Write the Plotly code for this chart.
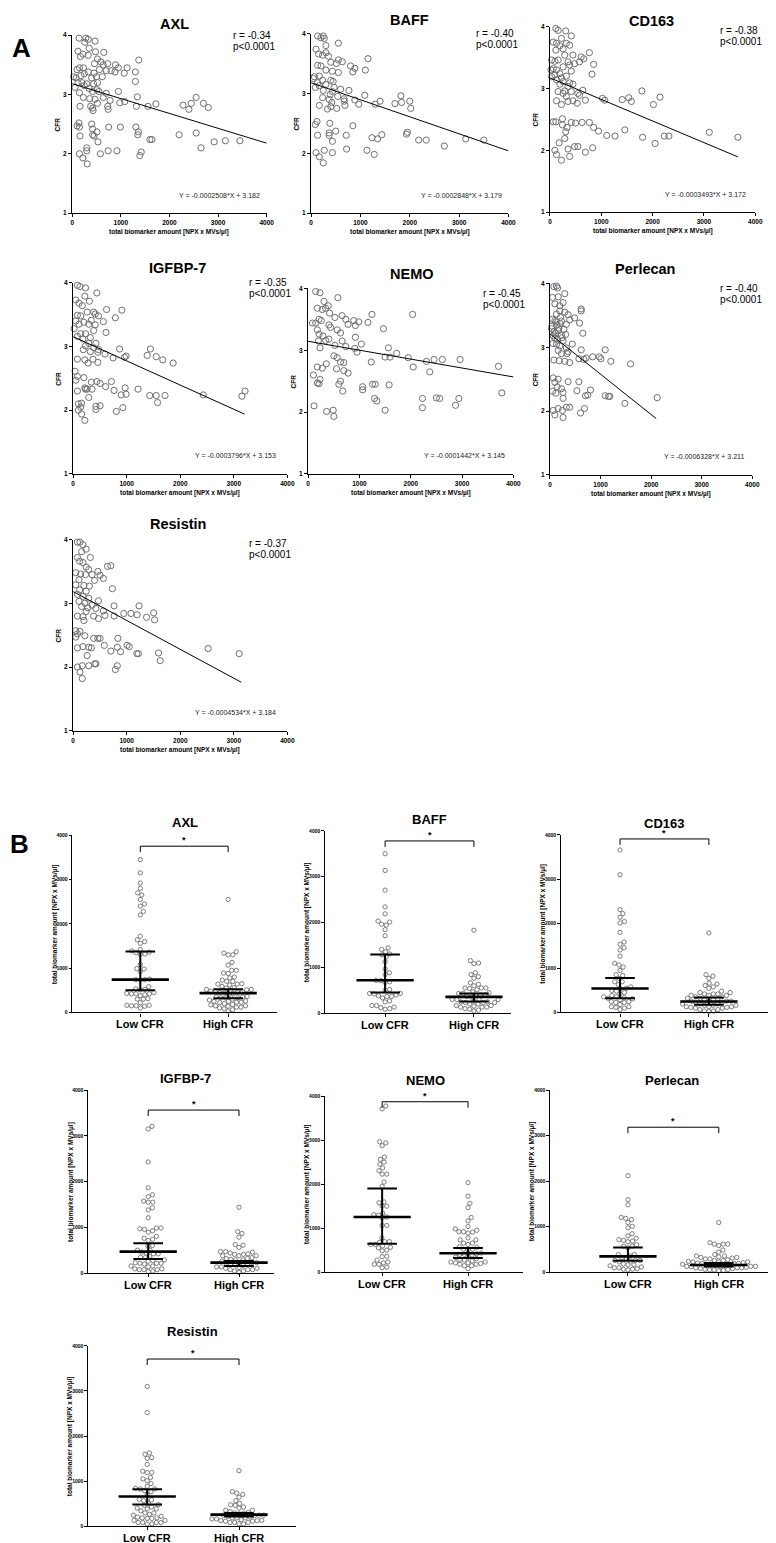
import numpy as np
import plotly.graph_objects as go

W, H = 776, 1543
FONT = "Liberation Sans, Arial, Helvetica, sans-serif"
GREY = "#6f6f6f"

# ---------------- data ----------------
markers = ["AXL", "BAFF", "CD163", "IGFBP-7", "NEMO", "Perlecan", "Resistin"]
r_values = ["-0.34", "-0.40", "-0.38", "-0.35", "-0.45", "-0.40", "-0.37"]
p_label = "p&lt;0.0001"
slopes = [-0.0002508, -0.0002848, -0.0003493, -0.0003796, -0.0001442, -0.0006328, -0.0004534]
intercepts = [3.182, 3.179, 3.172, 3.153, 3.145, 3.211, 3.184]
fit_x_end = [4000, 4000, 3661, 3200, 4000, 2100, 3140]
x_ticks_A = [0, 1000, 2000, 3000, 4000]
y_ticks_A = [1, 2, 3, 4]
y_ticks_B = [0, 1000, 2000, 3000, 4000]
groups = ["Low CFR", "High CFR"]
CFR_SPLIT = 2.9

axl_x = [140,280,330,260,470,350,120,480,650,220,330,170,520,1370,590,730,890,460,640,950,
         1130,150,230,100,560,700,800,330,1300,1070,880,450,250,180,30,80,620,400,500,1300,
         200,120,300,440,520,250,60,350,510,550,950,420,700,150,
         230,360,470,640,1340,780,1080,980,520,380,420,160,730,740,430,1320,1560,1720,2280,2400,
         2450,2550,2700,2800,
         140,100,150,400,420,510,750,990,1310,1360,1350,420,450,160,530,1600,1640,2200,2550,2920,
         3150,3450,300,300,2650,150,220,310,580,740,920,1390,1420]
axl_cfr = [3.95,3.95,3.93,3.88,3.90,3.78,3.73,3.72,3.71,3.68,3.66,3.64,3.60,3.58,3.55,3.52,3.50,3.52,3.50,3.45,
           3.45,3.45,3.45,3.42,3.42,3.40,3.40,3.38,3.38,3.36,3.38,3.36,3.35,3.32,3.30,3.28,3.30,3.28,3.30,3.22,
           3.20,3.20,3.18,3.18,3.20,3.15,3.12,3.10,3.08,3.05,3.05,3.05,3.02,3.03,
           2.95,2.93,2.92,2.95,2.96,2.90,2.88,2.86,2.85,2.80,2.77,2.80,2.80,2.75,2.73,2.80,2.80,2.84,2.82,2.75,
           2.85,2.95,2.85,2.78,
           2.52,2.47,2.45,2.50,2.42,2.37,2.45,2.45,2.45,2.37,2.32,2.32,2.30,2.30,2.20,2.24,2.24,2.32,2.35,2.20,
           2.22,2.22,2.10,2.05,2.10,2.00,1.93,1.83,2.00,2.05,2.05,1.97,2.03]

baff_x = [133,247,200,267,553,300,100,300,153,233,353,1153,553,633,400,513,133,200,800,887,
          300,433,553,847,1100,67,167,47,233,400,447,133,300,167,87,467,600,767,247,433,
          387,1087,540,233,367,667,673,887,420,1400,1300,967,687,167,400,1700,1833,1820,2000,2020,
          520,333,
          120,87,380,847,500,367,367,133,713,1433,1233,1347,433,1933,1953,2180,2333,3133,3500,2700,
          267,100,433,720,1133,1280,167,247]
baff_cfr = [3.96,3.96,3.93,3.92,3.84,3.80,3.74,3.68,3.66,3.64,3.62,3.58,3.56,3.53,3.52,3.50,3.47,3.46,3.46,3.42,
            3.39,3.37,3.35,3.36,3.39,3.28,3.29,3.25,3.22,3.22,3.20,3.18,3.15,3.13,3.10,3.10,3.07,3.05,3.05,3.03,
            2.98,2.97,2.95,2.93,2.90,2.91,2.87,2.89,2.85,2.87,2.82,2.82,2.80,2.80,2.78,2.83,2.85,2.96,2.87,2.75,
            2.75,2.74,
            2.53,2.48,2.50,2.46,2.37,2.34,2.30,2.30,2.30,2.31,2.26,2.24,2.20,2.32,2.35,2.22,2.22,2.24,2.22,2.12,
            2.05,2.01,2.01,2.07,2.05,1.98,1.94,1.84]

cd163_x = [115,160,307,416,64,128,320,224,192,384,256,115,768,288,448,608,660,32,96,160,
           352,480,576,384,851,256,64,128,416,20,192,819,96,320,224,32,128,384,448,256,
           192,352,640,288,160,416,544,576,256,320,128,448,691,224,352,531,1024,1069,1408,1536,
           1587,1792,2016,2144,
           64,115,243,416,627,499,768,243,333,851,947,1459,307,1107,1267,1805,2227,2317,3104,3661,
           288,179,480,544,352,96,832,2048,691,128,384,224]
cd163_cfr = [3.97,3.94,3.93,3.85,3.75,3.73,3.73,3.81,3.69,3.70,3.64,3.62,3.58,3.54,3.54,3.51,3.48,3.46,3.44,3.46,
             3.43,3.40,3.43,3.38,3.39,3.35,3.32,3.30,3.28,3.30,3.24,3.23,3.22,3.20,3.17,3.19,3.14,3.09,3.07,3.11,
             3.07,3.03,2.97,2.96,2.95,2.95,2.92,2.89,2.92,2.87,2.80,2.80,2.81,2.74,2.79,2.76,2.84,2.81,2.82,2.85,
             2.79,2.96,2.74,2.86,
             2.46,2.46,2.51,2.45,2.45,2.44,2.45,2.41,2.37,2.37,2.31,2.33,2.30,2.24,2.23,2.21,2.23,2.23,2.29,2.21,
             2.19,2.12,2.06,2.06,2.02,2.00,2.04,2.11,1.97,1.93,1.90,1.84]

igfbp7_x = [79,127,230,442,48,218,109,303,170,624,909,261,382,79,140,412,473,339,48,200,
            564,788,109,291,412,18,382,612,140,230,79,321,182,424,291,230,382,473,188,867,
            1442,321,461,594,745,958,988,1382,1551,1673,1867,79,218,370,279,461,
            36,79,48,200,339,442,503,715,218,261,606,970,1212,230,352,79,764,291,897,988,
            1430,1551,1715,1576,2430,3150,3210,97,158,140,424,503,97,424,927,806,158,218]
igfbp7_cfr = [3.96,3.94,3.92,3.84,3.73,3.79,3.68,3.71,3.64,3.58,3.57,3.54,3.54,3.49,3.48,3.51,3.48,3.41,3.40,3.38,
              3.39,3.45,3.35,3.35,3.34,3.28,3.25,3.22,3.20,3.20,3.16,3.14,3.12,3.05,3.05,3.01,2.98,2.95,2.95,2.96,
              2.96,2.92,2.91,2.88,2.82,2.83,2.85,2.86,2.84,2.79,2.74,2.80,2.79,2.80,2.74,2.75,
              2.61,2.53,2.47,2.51,2.44,2.45,2.42,2.45,2.35,2.33,2.37,2.35,2.33,2.33,2.33,2.30,2.31,2.20,2.24,2.25,
              2.23,2.23,2.23,2.12,2.24,2.22,2.30,2.10,2.11,2.05,2.06,2.07,2.00,2.01,2.04,1.98,1.94,1.84]

nemo_x = [148,232,580,309,393,180,277,341,419,1243,2035,663,522,213,734,889,985,84,148,258,
          1166,406,779,921,438,1468,180,567,631,213,290,921,406,341,663,200,1037,908,522,734,
          232,1565,953,1726,1500,1597,1951,502,567,631,1230,2306,2454,2615,2962,3709,2048,2370,354,180,
          277,554,695,695,779,
          103,180,213,232,631,599,1062,1062,1256,1307,1578,676,3774,2228,2499,2563,2937,1294,1339,2228,
          2872,116,361,489,502,1500]
nemo_cfr = [3.95,3.93,3.85,3.79,3.72,3.68,3.66,3.68,3.60,3.58,3.58,3.56,3.53,3.50,3.50,3.48,3.46,3.44,3.44,3.48,
            3.45,3.41,3.42,3.40,3.37,3.35,3.33,3.33,3.28,3.26,3.23,3.21,3.18,3.16,3.15,3.15,3.10,3.03,3.08,3.06,
            3.04,3.04,2.97,2.95,2.89,2.89,2.88,2.91,2.88,2.81,2.81,2.82,2.85,2.85,2.85,2.74,2.73,2.65,2.78,2.73,
            2.71,2.70,2.80,2.67,2.63,
            2.60,2.47,2.46,2.53,2.50,2.45,2.41,2.36,2.45,2.45,2.44,2.34,2.31,2.22,2.23,2.22,2.22,2.22,2.18,2.07,
            2.11,2.10,2.01,2.03,1.93,2.03]

perlecan_x = [78,130,150,293,52,163,98,195,260,618,618,195,293,130,358,488,390,52,98,228,
              325,585,130,33,163,650,228,65,98,260,442,130,195,325,163,358,618,1092,228,338,
              715,845,975,1008,670,78,182,293,1203,1593,390,572,
              40,85,120,175,210,240,275,310,150,60,200,110,
              65,163,98,358,572,143,228,52,260,117,533,800,702,748,1092,1157,1183,2120,1482,260,
              325,390,163,247,65,683,605,98,260]
perlecan_cfr = [3.95,3.96,3.93,3.84,3.78,3.79,3.68,3.65,3.70,3.57,3.60,3.57,3.55,3.52,3.51,3.46,3.43,3.44,3.42,3.41,
                3.36,3.38,3.35,3.29,3.26,3.22,3.19,3.18,3.14,3.10,3.05,3.05,3.02,2.99,2.95,2.93,2.96,2.96,2.90,2.90,
                2.83,2.85,2.85,2.82,2.81,2.80,2.79,2.78,2.78,2.74,2.76,2.82,
                3.33,3.25,3.40,3.30,3.47,3.15,3.28,3.20,3.12,3.06,3.37,3.22,
                2.52,2.50,2.45,2.46,2.46,2.38,2.35,2.31,2.29,2.28,2.32,2.33,2.24,2.25,2.24,2.23,2.23,2.21,2.12,2.20,
                2.06,2.06,2.04,2.01,2.01,2.04,1.97,1.94,1.90]

resistin_x = [79,127,182,242,158,79,321,121,182,642,703,242,291,461,48,140,230,352,503,564,
              400,109,48,200,303,733,121,242,79,182,291,473,109,218,352,764,1230,158,273,424,
              564,242,945,1079,1503,1194,1370,1521,594,764,79,182,382,473,200,
              48,127,79,218,48,382,461,503,836,182,291,339,79,582,824,1006,1048,703,885,1188,
              1218,1594,2520,3100,261,1624,400,424,291,170,79,824,788,127,170]
resistin_cfr = [3.96,3.96,3.92,3.85,3.81,3.72,3.72,3.66,3.64,3.58,3.59,3.57,3.53,3.50,3.48,3.46,3.45,3.45,3.44,3.39,
                3.36,3.37,3.29,3.28,3.27,3.23,3.21,3.19,3.14,3.11,3.08,3.04,3.03,3.00,2.97,2.96,2.96,2.95,2.93,2.92,
                2.88,2.87,2.84,2.84,2.85,2.82,2.78,2.74,2.81,2.80,2.80,2.79,2.80,2.76,2.73,
                2.57,2.56,2.52,2.49,2.47,2.45,2.45,2.45,2.45,2.32,2.31,2.30,2.30,2.34,2.31,2.34,2.32,2.25,2.24,2.21,
                2.21,2.22,2.29,2.21,2.18,2.10,2.05,2.05,2.02,2.02,2.00,2.02,1.96,1.92,1.82]

A_x = [axl_x, baff_x, cd163_x, igfbp7_x, nemo_x, perlecan_x, resistin_x]
A_y = [axl_cfr, baff_cfr, cd163_cfr, igfbp7_cfr, nemo_cfr, perlecan_cfr, resistin_cfr]

# median and interquartile range for each group (panel B)
median_low = [741, 721, 538, 473, 1253, 349, 657]
q1_low = [500, 452, 321, 313, 649, 255, 482]
q3_low = [1375, 1290, 778, 655, 1902, 545, 818]
median_high = [436, 357, 247, 233, 430, 160, 255]
q1_high = [321, 255, 172, 160, 325, 124, 212]
q3_high = [524, 430, 336, 269, 551, 204, 292]
sig_bracket_level = [3753, 3781, 3910, 3564, 3871, 3185, 3709]
sig_label = "*"

# ---------------- layout (pixels) ----------------
A_px = [(63, 260, 23.3, 202), (305, 505, 21.7, 202), (547, 755, 14.7, 201),
        (64, 281, 272, 464), (302, 510, 277.7, 464), (547, 752, 272.7, 465),
        (64, 281, 530, 722)]
A_title = [(167, 12), (405, 8), (650, 9), (170, 257), (407, 263), (643, 258), (170, 514)]
A_r = [(224, 24), (470, 22), (717, 19), (240, 272), (477, 283), (717, 278), (240, 534)]
B_px = [(63, 132, 221, 270, 827, 1005, 177, 814),
        (319, 380, 470, 508, 822.7, 1005.7, 425, 811),
        (558, 618, 708, 770, 826.7, 1005, 663, 815),
        (79, 140, 232, 267, 1083, 1267, 178, 1071),
        (319, 377, 464, 520, 1089, 1266, 421, 1073),
        (547, 626, 718, 775, 1083, 1266, 671, 1073),
        (79, 139, 232, 290, 1340, 1521, 185, 1326)]


def PX(px):
    return px / W


def PY(py):
    return 1 - py / H


def axname(n):
    return ("x" if n == 1 else f"x{n}"), ("y" if n == 1 else f"y{n}")


def laykey(n):
    return ("xaxis" if n == 1 else f"xaxis{n}"), ("yaxis" if n == 1 else f"yaxis{n}")


def swarm(vals, ppv, d):
    """beeswarm offsets (pixels) for values with pixel-per-value ppv and spacing d"""
    vals = np.asarray(vals, float)
    order = np.argsort(vals, kind="stable")
    placed = []
    offs = np.zeros(len(vals))
    for i in order:
        y = vals[i] * ppv
        near = [(px, py) for px, py in placed if abs(py - y) < d]
        cands = [0.0]
        for px, py in near:
            dx = np.sqrt(max(d * d - (py - y) ** 2, 0.0))
            cands += [px + dx, px - dx]
        cands = sorted(cands, key=lambda c: (abs(c), -c))
        c = 0.0
        for c in cands:
            ok = True
            for px, py in near:
                if (c - px) ** 2 + (y - py) ** 2 < d * d - 1e-6:
                    ok = False
                    break
            if ok:
                break
        placed.append((c, y))
        offs[i] = c
    return offs


fig = go.Figure()
ann = []
shapes = []
lay = {}

axis_common = dict(showline=True, linecolor="black", linewidth=1.3, ticks="outside",
                   tickcolor="black", tickwidth=1, showgrid=False, zeroline=False,
                   fixedrange=True, mirror=False)

# ---------------- panel A ----------------
for i, name in enumerate(markers):
    n = i + 1
    xa, ya = axname(n)
    kx, ky = laykey(n)
    l, r, t, b = A_px[i]
    xs = np.array(A_x[i], float)
    ys = np.array(A_y[i], float)
    m = min(len(xs), len(ys))
    xs, ys = xs[:m], ys[:m]
    fig.add_trace(go.Scatter(x=xs, y=ys, mode="markers", xaxis=xa, yaxis=ya,
                             marker=dict(symbol="circle-open", size=6.2, color=GREY,
                                         line=dict(width=1, color=GREY)),
                             cliponaxis=False, hoverinfo="skip", showlegend=False))
    xl = np.array([0.0, fit_x_end[i]])
    fig.add_trace(go.Scatter(x=xl, y=slopes[i] * xl + intercepts[i], mode="lines",
                             xaxis=xa, yaxis=ya, line=dict(color="black", width=1),
                             cliponaxis=False, hoverinfo="skip", showlegend=False))
    lay[kx] = dict(axis_common, domain=[PX(l), PX(r)], anchor=ya, range=[0, 4000],
                   tickvals=x_ticks_A, ticklen=3,
                   tickfont=dict(family=FONT, size=6.5, color="black", weight="bold"))
    lay[ky] = dict(axis_common, domain=[PY(b), PY(t)], anchor=xa, range=[1, 4],
                   tickvals=y_ticks_A, ticklen=3,
                   tickfont=dict(family=FONT, size=6.5, color="black", weight="bold"))
    tx, ty = A_title[i]
    ann.append(dict(text=name, x=PX(tx), y=PY(ty), xref="paper", yref="paper",
                    showarrow=False, xanchor="center", yanchor="middle",
                    font=dict(family=FONT, size=14.5, color="black", weight="bold")))
    rx, ry = A_r[i]
    ann.append(dict(text=f"r = {r_values[i]}", x=PX(rx), y=PY(ry), xref="paper", yref="paper",
                    showarrow=False, xanchor="left", yanchor="middle",
                    font=dict(family=FONT, size=10, color="black")))
    ann.append(dict(text=p_label, x=PX(rx), y=PY(ry + 11), xref="paper", yref="paper",
                    showarrow=False, xanchor="left", yanchor="middle",
                    font=dict(family=FONT, size=10, color="black")))
    eq = f"Y = {slopes[i]:.7f}*X + {intercepts[i]:.3f}"
    ann.append(dict(text=eq, x=PX(l + 0.76 * (r - l)), y=PY(b - 18), xref="paper", yref="paper",
                    showarrow=False, xanchor="center", yanchor="middle",
                    font=dict(family=FONT, size=7, color="#222222")))
    ann.append(dict(text="total biomarker amount [NPX x MVs/\u00b5l]", x=PX((l + r) / 2), y=PY(b + 19),
                    xref="paper", yref="paper", showarrow=False, xanchor="center", yanchor="middle",
                    font=dict(family=FONT, size=6.5, color="black", weight="bold")))
    ann.append(dict(text="CFR", x=PX(l - 15), y=PY((t + b) / 2), xref="paper", yref="paper",
                    showarrow=False, xanchor="center", yanchor="middle", textangle=-90,
                    font=dict(family=FONT, size=6.5, color="black", weight="bold")))

# ---------------- panel B ----------------
for i, name in enumerate(markers):
    n = i + 8
    xa, ya = axname(n)
    kx, ky = laykey(n)
    left, low, high, right, top, bot, ttx, tty = B_px[i]
    unit = high - low
    ppv = (bot - top) / 4000.0
    r0 = 1 - (low - left) / unit
    r1 = 2 + (right - high) / unit
    xs = np.array(A_x[i], float)
    ys = np.array(A_y[i], float)
    m = min(len(xs), len(ys))
    xs, ys = xs[:m], ys[:m]
    for g, mask in ((1, ys < CFR_SPLIT), (2, ys >= CFR_SPLIT)):
        vals = xs[mask]
        offs = swarm(vals, ppv, 4.7)
        fig.add_trace(go.Scatter(x=g + offs / unit, y=vals, mode="markers", xaxis=xa, yaxis=ya,
                                 marker=dict(symbol="circle-open", size=4.3, color=GREY,
                                             line=dict(width=0.9, color=GREY)),
                                 cliponaxis=False, hoverinfo="skip", showlegend=False))
    mh = 29.0 / unit
    ch = 15.0 / unit
    med_x, med_y, iqr_x, iqr_y = [], [], [], []
    for g, md, q1, q3 in ((1, median_low[i], q1_low[i], q3_low[i]),
                          (2, median_high[i], q1_high[i], q3_high[i])):
        med_x += [g - mh, g + mh, None]
        med_y += [md, md, None]
        iqr_x += [g - ch, g + ch, None, g - ch, g + ch, None, g, g, None]
        iqr_y += [q1, q1, None, q3, q3, None, q1, q3, None]
    fig.add_trace(go.Scatter(x=iqr_x, y=iqr_y, mode="lines", xaxis=xa, yaxis=ya,
                             line=dict(color="black", width=2), cliponaxis=False,
                             hoverinfo="skip", showlegend=False))
    fig.add_trace(go.Scatter(x=med_x, y=med_y, mode="lines", xaxis=xa, yaxis=ya,
                             line=dict(color="black", width=2.6), cliponaxis=False,
                             hoverinfo="skip", showlegend=False))
    lay[kx] = dict(axis_common, domain=[PX(left), PX(right)], anchor=ya, range=[r0, r1],
                   tickvals=[1, 2], ticklen=3, showticklabels=False)
    lay[ky] = dict(axis_common, domain=[PY(bot), PY(top)], anchor=xa, range=[0, 4000],
                   tickvals=y_ticks_B, ticklen=2.5,
                   tickfont=dict(family=FONT, size=5, color="black", weight="bold"))
    for g, lab in zip((1, 2), groups):
        ann.append(dict(text=lab, x=g, y=PY(bot + 12), xref=xa, yref="paper", showarrow=False,
                        xanchor="center", yanchor="middle",
                        font=dict(family=FONT, size=11, color="black", weight="bold")))
    L = sig_bracket_level[i]
    drop = 6.0 / ppv
    shapes.append(dict(type="path", xref=xa, yref=ya,
                       path=f"M 1,{L - drop} L 1,{L} L 2,{L} L 2,{L - drop}",
                       line=dict(color="black", width=1)))
    ann.append(dict(text=sig_label, x=1.5, y=L, xref=xa, yref=ya, showarrow=False,
                    xanchor="center", yanchor="bottom", yshift=-1,
                    font=dict(family=FONT, size=9, color="black", weight="bold")))
    ann.append(dict(text=name, x=PX(ttx), y=PY(tty), xref="paper", yref="paper",
                    showarrow=False, xanchor="center", yanchor="middle",
                    font=dict(family=FONT, size=13, color="black", weight="bold")))
    ann.append(dict(text="total biomarker amount [NPX x MVs/\u00b5l]", x=PX(left - 18),
                    y=PY((top + bot) / 2), xref="paper", yref="paper", showarrow=False,
                    xanchor="center", yanchor="middle", textangle=-90,
                    font=dict(family=FONT, size=6.5, color="black", weight="bold")))

# section letters
ann.append(dict(text="A", x=PX(11.5), y=PY(36), xref="paper", yref="paper", showarrow=False,
                xanchor="center", yanchor="middle",
                font=dict(family=FONT, size=26, color="black", weight="bold")))
ann.append(dict(text="B", x=PX(10), y=PY(836), xref="paper", yref="paper", showarrow=False,
                xanchor="center", yanchor="middle",
                font=dict(family=FONT, size=26, color="black", weight="bold")))

fig.update_layout(width=W, height=H, margin=dict(l=0, r=0, t=0, b=0),
                  paper_bgcolor="white", plot_bgcolor="white", showlegend=False,
                  annotations=ann, shapes=shapes, **lay)
fig.write_html("out.html", config={"displayModeBar": False})
